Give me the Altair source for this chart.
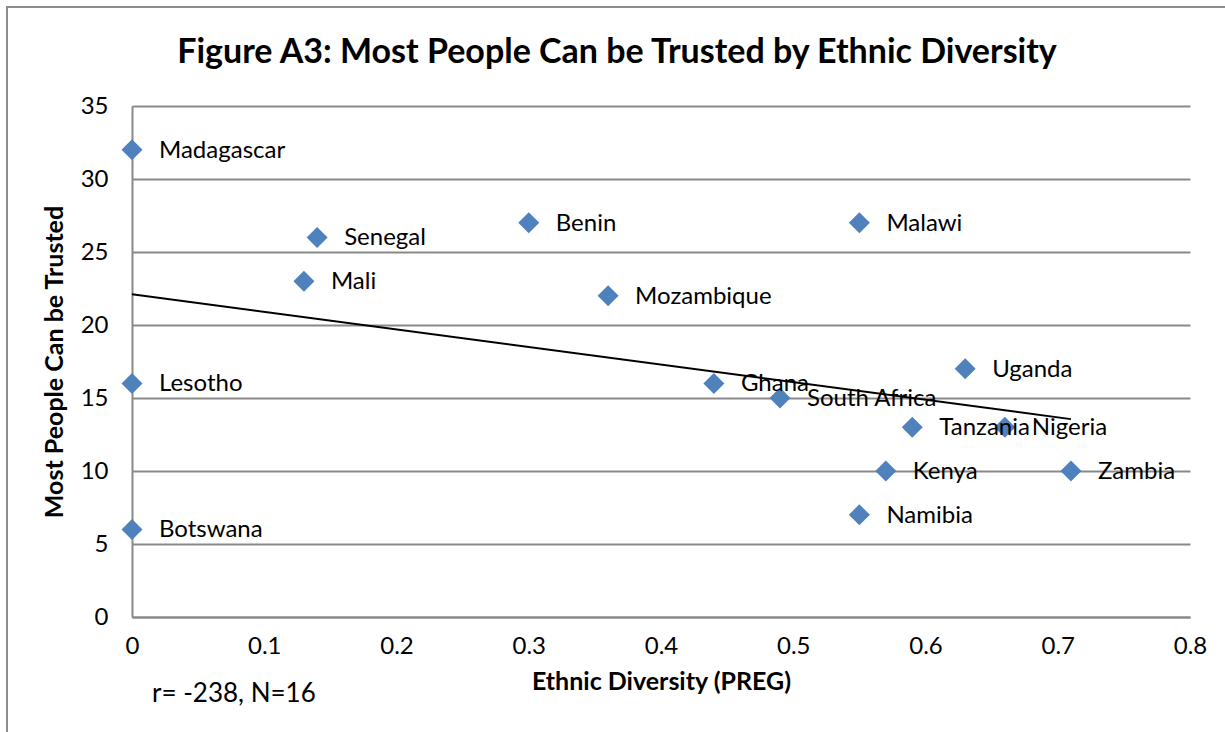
import altair as alt
import pandas as pd

# Afrobarometer-style country data: ethnic diversity (PREG) vs share who trust most people
countries = ["Madagascar", "Senegal", "Benin", "Malawi", "Mali", "Mozambique",
             "Lesotho", "Ghana", "South Africa", "Uganda", "Tanzania", "Nigeria",
             "Kenya", "Zambia", "Namibia", "Botswana"]
preg = [0.0, 0.14, 0.30, 0.55, 0.13, 0.36, 0.0, 0.44, 0.49, 0.63, 0.59, 0.66,
        0.57, 0.71, 0.55, 0.0]
trust = [32, 26, 27, 27, 23, 22, 16, 16, 15, 17, 13, 13, 10, 10, 7, 6]

x_ticks = [0, 0.1, 0.2, 0.3, 0.4, 0.5, 0.6, 0.7, 0.8]
y_ticks = [0, 5, 10, 15, 20, 25, 30, 35]

title_text = "Figure A3: Most People Can be Trusted by Ethnic Diversity"
note_text = "r= -238, N=16"

df = pd.DataFrame({"country": countries, "preg": preg, "trust": trust})

FONT = "Lato"
GRID = "#898989"
BLUE = "#4F81BD"
FS = 24

x_enc = alt.X("preg:Q", scale=alt.Scale(domain=[0, 0.8], nice=False, zero=False),
              axis=alt.Axis(values=x_ticks, format="~g", title="Ethnic Diversity (PREG)",
                            grid=False, tickSize=0, labelPadding=17, labelFlush=False,
                            titlePadding=11, domainColor=GRID, domainWidth=2))
y_enc = alt.Y("trust:Q", scale=alt.Scale(domain=[0, 35], nice=False),
              axis=alt.Axis(values=y_ticks, title="Most People Can be Trusted",
                            grid=True, gridColor=GRID, gridWidth=2, tickSize=0,
                            labelPadding=24, labelFlush=False, titlePadding=13,
                            domainColor=GRID, domainWidth=2))

base = alt.Chart(df)

points = base.mark_point(shape="diamond", filled=True, size=440, color=BLUE, opacity=1).encode(
    x=x_enc, y=y_enc)

labels = base.mark_text(align="left", baseline="middle", dx=27, dy=1, fontSize=FS,
                        font=FONT, color="black").encode(
    x="preg:Q", y="trust:Q", text="country:N")

trend = base.transform_regression("preg", "trust").mark_line(
    color="black", strokeWidth=1.8).encode(x="preg:Q", y="trust:Q")

note = alt.Chart(pd.DataFrame({"t": [note_text]})).mark_text(
    align="left", baseline="middle", fontSize=26, font=FONT, color="black").encode(
    x=alt.value(20), y=alt.value(588), text="t:N")

heading = alt.Chart(pd.DataFrame({"t": [title_text]})).mark_text(
    align="center", baseline="middle", fontSize=34, font=FONT, fontWeight="bold",
    color="black").encode(x=alt.value(485), y=alt.value(-53), text="t:N")

frame = alt.Chart(pd.DataFrame({"t": [0]})).mark_rect(
    fill=None, stroke="#8c8c8c", strokeWidth=2).encode(
    x=alt.value(-125), x2=alt.value(1150), y=alt.value(-99), y2=alt.value(700))

chart = alt.layer(frame, points, labels, trend, note, heading).properties(
    width=1058, height=511,
    background="white",
    padding={"left": 132, "top": 106, "right": 35, "bottom": 115},
    autosize=alt.AutoSizeParams(type="none"),
).configure_view(stroke=None).configure_axis(
    labelFont=FONT, labelFontSize=FS, labelColor="black",
    titleFont=FONT, titleFontSize=25, titleFontWeight="bold", titleColor="black",
)

chart.save("out.html", embed_options={"renderer": "svg", "actions": False})
